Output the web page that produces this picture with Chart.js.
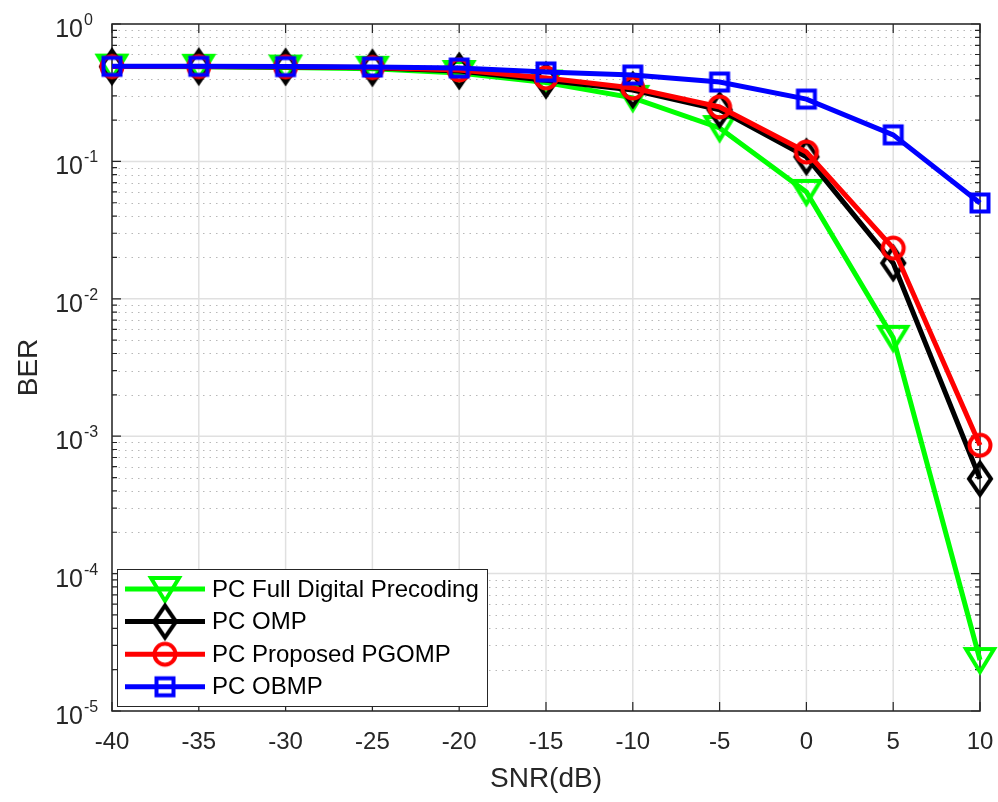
<!DOCTYPE html>
<html>
<head>
<meta charset="utf-8">
<title>BER vs SNR</title>
<script src="https://cdn.jsdelivr.net/npm/chart.js@4.4.1/dist/chart.umd.min.js"></script>
<style>
  html, body { margin: 0; padding: 0; background: #fff; }
  #wrap { width: 998px; height: 802px; }
</style>
</head>
<body>
<div id="wrap"><canvas id="berChart" width="998" height="802"></canvas></div>
<script>
// SNR points (dB) and bit error rate of each precoder
const snr = [-40, -35, -30, -25, -20, -15, -10, -5, 0, 5, 10];
const berFullDigital = [0.49, 0.488, 0.482, 0.472, 0.44, 0.375, 0.29, 0.175, 0.060, 0.0052, 2.35e-5];
const berOMP = [0.49, 0.49, 0.487, 0.48, 0.455, 0.39, 0.331, 0.237, 0.108, 0.0182, 4.9e-4];
const berPGOMP = [0.49, 0.49, 0.488, 0.482, 0.463, 0.405, 0.342, 0.249, 0.117, 0.0234, 8.6e-4];
const berOBMP = [0.492, 0.492, 0.49, 0.486, 0.478, 0.448, 0.425, 0.378, 0.284, 0.156, 0.0498];

const seriesNames = ['PC Full Digital Precoding', 'PC OMP', 'PC Proposed PGOMP', 'PC OBMP'];
const seriesColors = ['#00ff00', '#000000', '#ff0000', '#0000ff'];
const seriesMarkers = ['triangleDown', 'diamond', 'circle', 'square'];

const xTicks = [-40, -35, -30, -25, -20, -15, -10, -5, 0, 5, 10];
const yDecades = [-5, -4, -3, -2, -1, 0];

const FONT = '"Liberation Sans", Arial, Helvetica, sans-serif';
const AXIS_COLOR = '#262626';

// hollow markers like the MATLAB ones
function markerCanvas(shape, color) {
  const c = document.createElement('canvas');
  c.width = 44; c.height = 44;
  const g = c.getContext('2d');
  g.strokeStyle = color;
  g.lineWidth = 4;
  g.lineJoin = 'miter';
  g.translate(22, 22);
  g.beginPath();
  if (shape === 'triangleDown') {
    g.moveTo(-14, -11); g.lineTo(14, -11); g.lineTo(0, 12); g.closePath();
  } else if (shape === 'diamond') {
    g.moveTo(0, -16); g.lineTo(11, 0); g.lineTo(0, 16); g.lineTo(-11, 0); g.closePath();
  } else if (shape === 'circle') {
    g.arc(0, 0, 10.5, 0, Math.PI * 2);
  } else {
    g.rect(-8.5, -8.5, 17, 17);
  }
  g.stroke();
  return c;
}

const markers = seriesMarkers.map((m, i) => markerCanvas(m, seriesColors[i]));
const seriesData = [berFullDigital, berOMP, berPGOMP, berOBMP];

const datasets = seriesData.map((vals, i) => ({
  label: seriesNames[i],
  data: snr.map((s, k) => ({ x: s, y: vals[k] })),
  borderColor: seriesColors[i],
  backgroundColor: seriesColors[i],
  borderWidth: 5,
  pointStyle: markers[i],
  pointRadius: 12,
  tension: 0,
  clip: false,
  order: 4 - i
}));

// grid, box, ticks and tick labels in MATLAB style
const axesPlugin = {
  id: 'matlabAxes',
  beforeDatasetsDraw(chart) {
    const { ctx, chartArea: a, scales: { x, y } } = chart;
    ctx.save();

    // minor dotted grid on the log axis
    ctx.strokeStyle = '#b8b8b8';
    ctx.lineWidth = 1;
    ctx.setLineDash([1.5, 5]);
    yDecades.slice(0, -1).forEach(e => {
      for (let m = 2; m <= 9; m++) {
        const yy = Math.round(y.getPixelForValue(m * Math.pow(10, e))) + 0.5;
        ctx.beginPath(); ctx.moveTo(a.left, yy); ctx.lineTo(a.right, yy); ctx.stroke();
      }
    });
    ctx.setLineDash([]);

    // major grid
    ctx.strokeStyle = '#e0e0e0';
    ctx.lineWidth = 1.5;
    yDecades.forEach(e => {
      const yy = y.getPixelForValue(Math.pow(10, e));
      ctx.beginPath(); ctx.moveTo(a.left, yy); ctx.lineTo(a.right, yy); ctx.stroke();
    });
    xTicks.forEach(t => {
      const xx = x.getPixelForValue(t);
      ctx.beginPath(); ctx.moveTo(xx, a.top); ctx.lineTo(xx, a.bottom); ctx.stroke();
    });

    // box and inward tick marks
    ctx.strokeStyle = AXIS_COLOR;
    ctx.lineWidth = 1.5;
    ctx.strokeRect(a.left, a.top, a.right - a.left, a.bottom - a.top);
    ctx.lineWidth = 1.2;
    xTicks.forEach(t => {
      const xx = x.getPixelForValue(t);
      ctx.beginPath();
      ctx.moveTo(xx, a.bottom); ctx.lineTo(xx, a.bottom - 9);
      ctx.moveTo(xx, a.top); ctx.lineTo(xx, a.top + 9);
      ctx.stroke();
    });
    yDecades.forEach(e => {
      const yy = y.getPixelForValue(Math.pow(10, e));
      ctx.beginPath();
      ctx.moveTo(a.left, yy); ctx.lineTo(a.left + 9, yy);
      ctx.moveTo(a.right, yy); ctx.lineTo(a.right - 9, yy);
      ctx.stroke();
      if (e === 0) return;
      for (let m = 2; m <= 9; m++) {
        const ym = y.getPixelForValue(m * Math.pow(10, e));
        ctx.beginPath();
        ctx.moveTo(a.left, ym); ctx.lineTo(a.left + 5, ym);
        ctx.moveTo(a.right, ym); ctx.lineTo(a.right - 5, ym);
        ctx.stroke();
      }
    });

    // tick labels
    ctx.fillStyle = AXIS_COLOR;
    ctx.font = '24px ' + FONT;
    ctx.textAlign = 'center';
    ctx.textBaseline = 'alphabetic';
    xTicks.forEach(t => {
      ctx.fillText(String(t), x.getPixelForValue(t), a.bottom + 38);
    });
    yDecades.forEach(e => {
      const yy = y.getPixelForValue(Math.pow(10, e));
      ctx.font = '25px ' + FONT;
      ctx.textAlign = 'right';
      ctx.fillText('10', 83, yy + 13);
      ctx.font = '16px ' + FONT;
      ctx.textAlign = 'left';
      ctx.fillText(String(e), 84, yy + 1);
    });

    // axis titles
    ctx.font = '28px ' + FONT;
    ctx.textAlign = 'center';
    ctx.fillText('SNR(dB)', (a.left + a.right) / 2, a.bottom + 76);
    ctx.save();
    ctx.translate(37, (a.top + a.bottom) / 2);
    ctx.rotate(-Math.PI / 2);
    ctx.fillText('BER', 0, 0);
    ctx.restore();

    ctx.restore();
  },
  afterDatasetsDraw(chart) {
    const { ctx, chartArea: a } = chart;
    const left = a.left + 5, top = 569, w = 370, h = 137;
    ctx.save();
    ctx.fillStyle = '#fff';
    ctx.fillRect(left, top, w, h);
    ctx.strokeStyle = AXIS_COLOR;
    ctx.lineWidth = 1;
    ctx.strokeRect(left + 0.5, top + 0.5, w, h);
    ctx.font = '24px ' + FONT;
    ctx.textBaseline = 'middle';
    ctx.textAlign = 'left';
    seriesNames.forEach((name, i) => {
      const yy = top + 20 + i * 32.6;
      ctx.strokeStyle = seriesColors[i];
      ctx.lineWidth = 5;
      ctx.beginPath(); ctx.moveTo(left + 8, yy); ctx.lineTo(left + 88, yy); ctx.stroke();
      const mk = markers[i];
      ctx.drawImage(mk, left + 48 - mk.width / 2, yy - mk.height / 2);
      ctx.fillStyle = '#000';
      ctx.fillText(name, left + 95, yy + 1);
    });
    ctx.restore();
  }
};

new Chart(document.getElementById('berChart').getContext('2d'), {
  type: 'line',
  data: { datasets: datasets },
  options: {
    responsive: false,
    animation: false,
    layout: { padding: { left: 112, right: 18, top: 24, bottom: 91 } },
    scales: {
      x: { type: 'linear', min: -40, max: 10, display: false },
      y: { type: 'logarithmic', min: 1e-5, max: 1, display: false }
    },
    plugins: {
      legend: { display: false },
      tooltip: { enabled: false }
    }
  },
  plugins: [axesPlugin]
});
</script>
</body>
</html>
